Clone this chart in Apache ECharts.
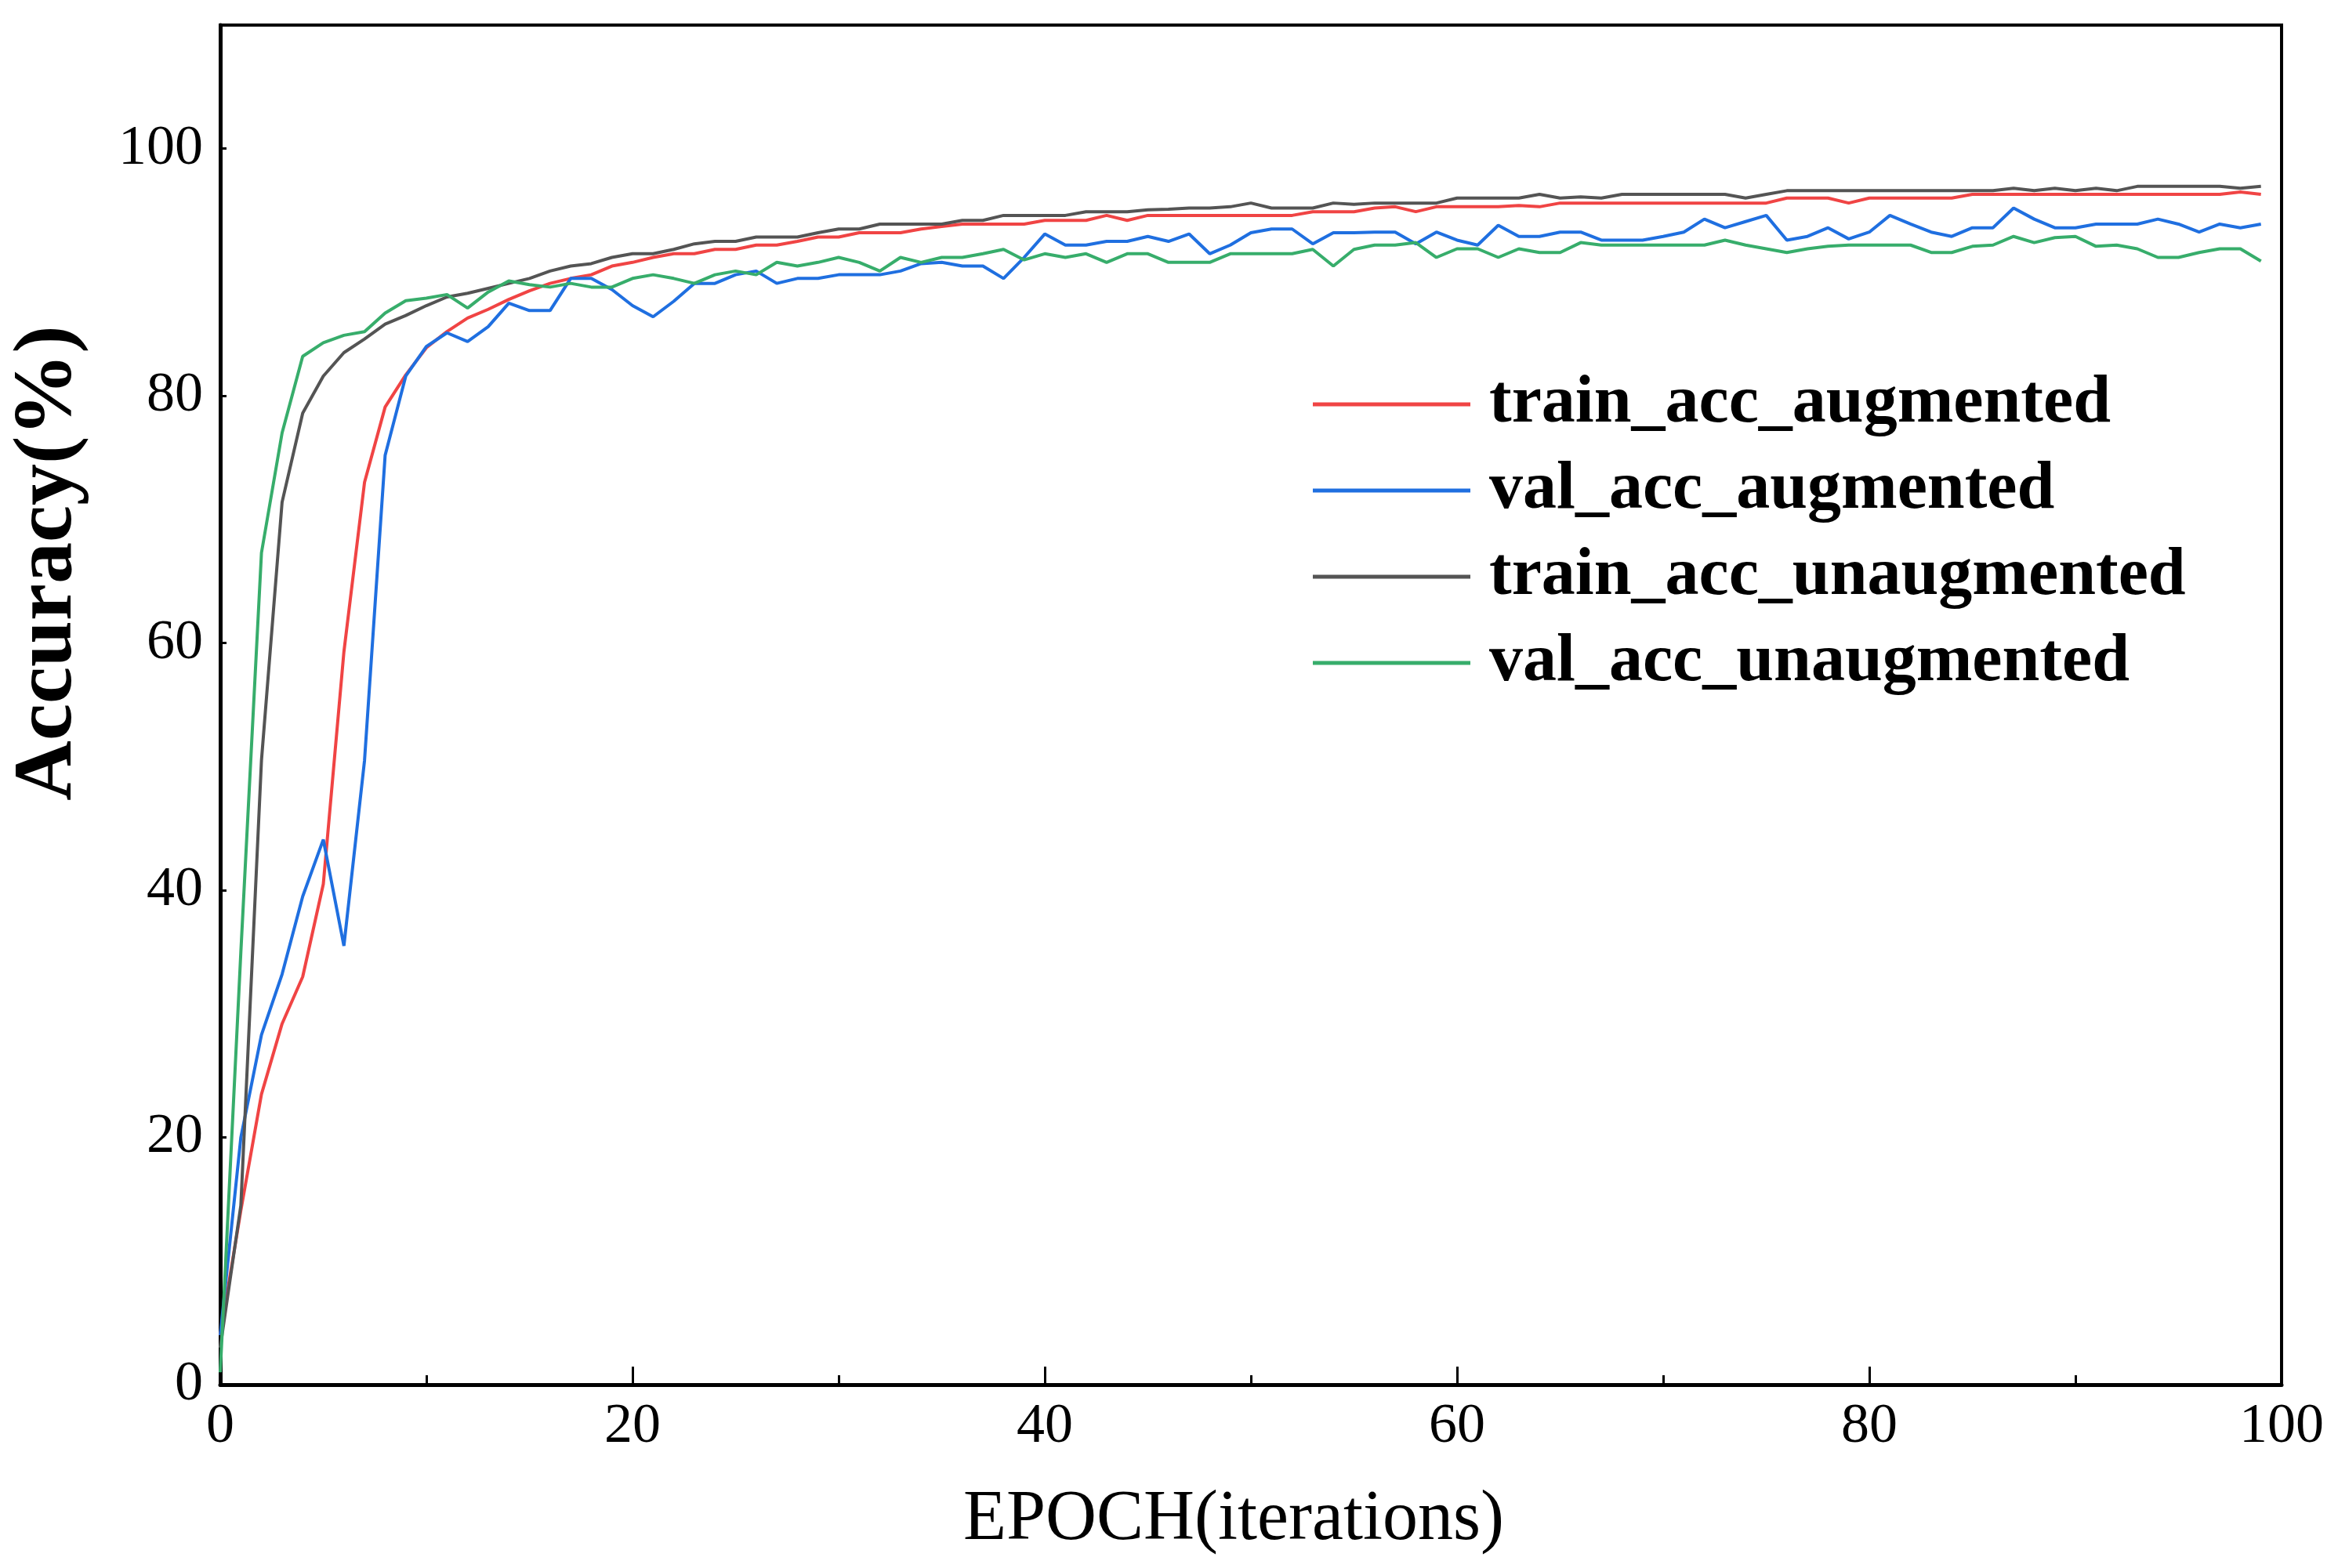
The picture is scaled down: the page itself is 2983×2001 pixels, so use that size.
<!DOCTYPE html>
<html>
<head>
<meta charset="utf-8">
<script src="https://cdn.jsdelivr.net/npm/echarts@6/dist/echarts.min.js"></script>
<style>
    html, body { margin: 0; padding: 0; background: #fff; }
    #chart { width: 2983px; height: 2001px; }
</style>
</head>
<body>
<div id="chart"></div>
<script>
    var seriesNames = ['train_acc_augmented', 'val_acc_augmented', 'train_acc_unaugmented', 'val_acc_unaugmented']
    var seriesColors = ['#f04444', '#1f6fe0', '#545454', '#37ad6b']

    // accuracy (%) per epoch, epochs 0..99
    var trainAug = [
        4, 14.1, 23.5, 29.2, 33, 40.5, 59.3, 73.0, 79.1, 81.7,
        83.9, 85.2, 86.3, 87.0, 87.8, 88.5, 89.1, 89.5, 89.8, 90.5,
        90.8, 91.2, 91.5, 91.5, 91.85, 91.85, 92.2, 92.2, 92.5, 92.85,
        92.85, 93.2, 93.2, 93.2, 93.5, 93.7, 93.9, 93.9, 93.9, 93.9,
        94.2, 94.2, 94.2, 94.6, 94.2, 94.6, 94.6, 94.6, 94.6, 94.6,
        94.6, 94.6, 94.6, 94.9, 94.9, 94.9, 95.2, 95.3, 94.9, 95.3,
        95.3, 95.3, 95.3, 95.4, 95.3, 95.6, 95.6, 95.6, 95.6, 95.6,
        95.6, 95.6, 95.6, 95.6, 95.6, 95.6, 96.0, 96.0, 96.0, 95.6,
        96.0, 96.0, 96.0, 96.0, 96.0, 96.3, 96.3, 96.3, 96.3, 96.3,
        96.3, 96.3, 96.3, 96.3, 96.3, 96.3, 96.3, 96.3, 96.5, 96.3
    ]
    var valAug = [
        4, 20, 28.3, 33.2, 39.5, 44.1, 35.5, 50.5, 75.2, 81.6,
        84.0, 85.1, 84.4, 85.6, 87.5, 86.9, 86.9, 89.5, 89.5, 88.6,
        87.3, 86.4, 87.65, 89.1, 89.1, 89.8, 90.1, 89.1, 89.5, 89.5,
        89.8, 89.8, 89.8, 90.1, 90.7, 90.8, 90.5, 90.5, 89.5, 91.2,
        93.1, 92.2, 92.2, 92.5, 92.5, 92.9, 92.5, 93.1, 91.5, 92.2,
        93.2, 93.5, 93.5, 92.3, 93.2, 93.2, 93.25, 93.25, 92.3, 93.25,
        92.6, 92.2, 93.8, 92.9, 92.9, 93.25, 93.25, 92.6, 92.6, 92.6,
        92.9, 93.25, 94.3, 93.6, 94.1, 94.6, 92.6, 92.9, 93.6, 92.7,
        93.25, 94.6, 93.9, 93.25, 92.9, 93.6, 93.6, 95.2, 94.3, 93.6,
        93.6, 93.9, 93.9, 93.9, 94.3, 93.9, 93.25, 93.9, 93.6, 93.9
    ]
    var trainUnaug = [
        3, 14.5, 50.5, 71.4, 78.6, 81.6, 83.5, 84.6, 85.8, 86.5,
        87.3, 88.0, 88.3, 88.7, 89.1, 89.5, 90.1, 90.5, 90.7, 91.2,
        91.5, 91.5, 91.85, 92.3, 92.5, 92.5, 92.85, 92.85, 92.85, 93.2,
        93.5, 93.5, 93.9, 93.9, 93.9, 93.9, 94.2, 94.2, 94.6, 94.6,
        94.6, 94.6, 94.9, 94.9, 94.9, 95.05, 95.1, 95.2, 95.2, 95.3,
        95.6, 95.2, 95.2, 95.2, 95.6, 95.5, 95.6, 95.6, 95.6, 95.6,
        96.0, 96.0, 96.0, 96.0, 96.3, 96.0, 96.1, 96.0, 96.3, 96.3,
        96.3, 96.3, 96.3, 96.3, 96.0, 96.3, 96.6, 96.6, 96.6, 96.6,
        96.6, 96.6, 96.6, 96.6, 96.6, 96.6, 96.6, 96.8, 96.6, 96.8,
        96.6, 96.8, 96.6, 96.95, 96.95, 96.95, 96.95, 96.95, 96.8, 96.95
    ]
    var valUnaug = [
        1, 35, 67.3, 77, 83.2, 84.3, 84.9, 85.2, 86.7, 87.7,
        87.9, 88.2, 87.1, 88.4, 89.3, 89.0, 88.8, 89.1, 88.8, 88.8,
        89.5, 89.8, 89.5, 89.1, 89.8, 90.1, 89.8, 90.8, 90.5, 90.8,
        91.2, 90.8, 90.1, 91.2, 90.8, 91.2, 91.2, 91.5, 91.85, 91.0,
        91.5, 91.2, 91.5, 90.8, 91.5, 91.5, 90.8, 90.8, 90.8, 91.5,
        91.5, 91.5, 91.5, 91.85, 90.5, 91.85, 92.2, 92.2, 92.4, 91.2,
        91.9, 91.9, 91.2, 91.9, 91.6, 91.6, 92.4, 92.2, 92.2, 92.2,
        92.2, 92.2, 92.2, 92.6, 92.2, 91.9, 91.6, 91.9, 92.1, 92.2,
        92.2, 92.2, 92.2, 91.6, 91.6, 92.1, 92.2, 92.9, 92.4, 92.8,
        92.9, 92.1, 92.2, 91.9, 91.2, 91.2, 91.6, 91.9, 91.9, 90.9
    ]

    var xTicks = {min: 0, max: 100, interval: 20}
    var yTicks = {min: 0, max: 110, interval: 20}

    var font = 'Liberation Serif'

    function toPoints(values) {
        return values.map(function (v, i) { return [i, v] })
    }

    var allValues = [trainAug, valAug, trainUnaug, valUnaug]

    var chart = echarts.init(document.getElementById('chart'))
    chart.setOption({
        animation: false,
        backgroundColor: '#fff',
        grid: {
            left: 281,
            right: 72,
            top: 32,
            bottom: 234,
            show: true,
            borderColor: '#000',
            borderWidth: 4
        },
        legend: {
            orient: 'vertical',
            left: 1670,
            top: 468,
            icon: 'rect',
            itemWidth: 201,
            itemHeight: 5,
            itemGap: 24,
            data: seriesNames,
            textStyle: {
                fontFamily: font,
                fontWeight: 'bold',
                fontSize: 86,
                lineHeight: 86,
                color: '#000',
                padding: [0, 0, 0, 19]
            }
        },
        xAxis: {
            type: 'value',
            min: xTicks.min,
            max: xTicks.max,
            interval: xTicks.interval,
            name: 'EPOCH(iterations)',
            nameLocation: 'middle',
            nameGap: 128,
            nameTextStyle: {
                fontFamily: font,
                fontSize: 90,
                color: '#000',
                padding: [0, 44, 0, 0]
            },
            axisLine: {lineStyle: {color: '#000', width: 5}},
            axisTick: {inside: true, length: 23, lineStyle: {color: '#000', width: 3}},
            minorTick: {show: true, splitNumber: 2, length: 12, lineStyle: {color: '#000', width: 3}},
            axisLabel: {fontFamily: font, fontSize: 72, color: '#000', margin: 18},
            splitLine: {show: false}
        },
        yAxis: {
            type: 'value',
            min: yTicks.min,
            max: yTicks.max,
            interval: yTicks.interval,
            name: 'Accuracy(%)',
            nameLocation: 'middle',
            nameGap: 165,
            nameTextStyle: {
                fontFamily: font,
                fontWeight: 'bold',
                fontSize: 106,
                color: '#000',
                padding: [0, 0, 0, 362]
            },
            axisLine: {show: true, lineStyle: {color: '#000', width: 5}},
            axisTick: {show: true, inside: true, length: 8, lineStyle: {color: '#000', width: 3}},
            axisLabel: {fontFamily: font, fontSize: 72, color: '#000', margin: 22, showMaxLabel: false},
            splitLine: {show: false}
        },
        series: seriesNames.map(function (name, k) {
            return {
                name: name,
                type: 'line',
                data: toPoints(allValues[k]),
                symbol: 'none',
                showSymbol: false,
                smooth: false,
                color: seriesColors[k],
                lineStyle: {color: seriesColors[k], width: 4}
            }
        })
    })
</script>
</body>
</html>
